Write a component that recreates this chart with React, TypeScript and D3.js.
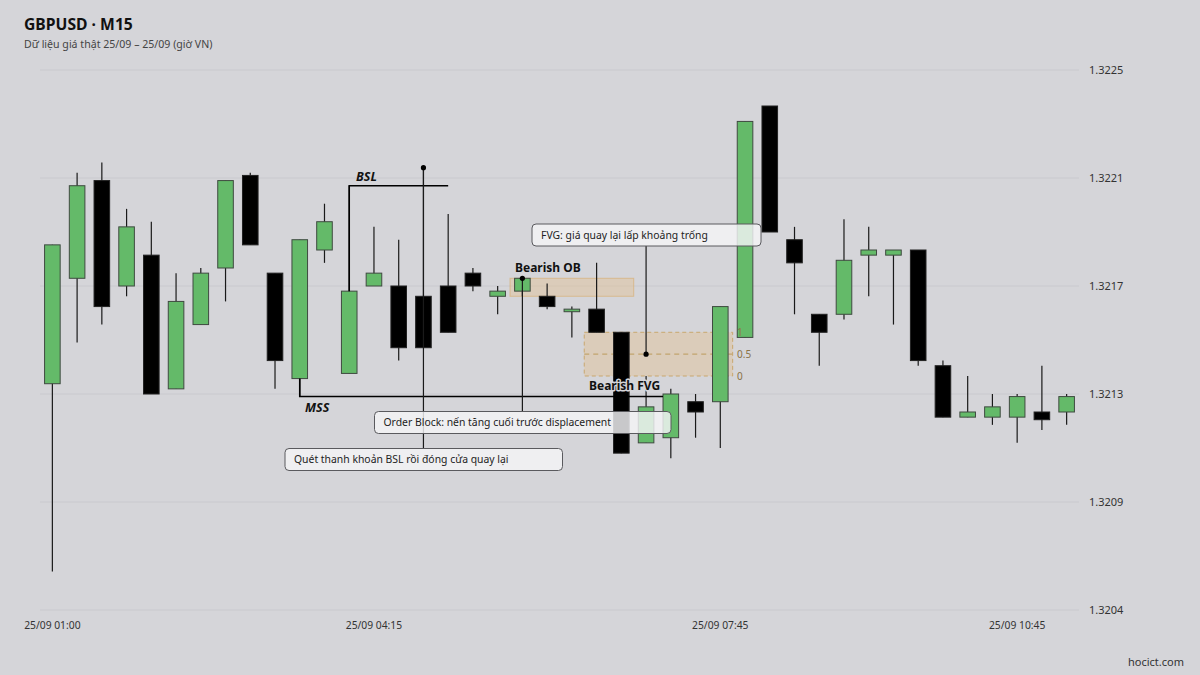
import React from "react";
import * as d3 from "d3";

const times = [
  "01:00","01:15","01:30","01:45","02:00","02:15","02:30","02:45","03:00","03:15",
  "03:30","03:45","04:00","04:15","04:30","04:45","05:00","05:15","05:30","05:45",
  "06:00","06:15","06:30","06:45","07:00","07:15","07:30","07:45","08:00","08:15",
  "08:30","08:45","09:00","09:15","09:30","09:45","10:00","10:15","10:30","10:45",
  "11:00","11:15",
];
const opens = [
  1.32132,1.32173,1.32211,1.32170,1.32182,1.32130,1.32155,1.32177,1.32213,1.32175,
  1.32134,1.32184,1.32136,1.32170,1.32170,1.32166,1.32170,1.32175,1.32166,1.32168,
  1.32166,1.32160,1.32161,1.32152,1.32109,1.32111,1.32125,1.32125,1.32150,1.32240,
  1.32188,1.32159,1.32159,1.32182,1.32182,1.32184,1.32139,1.32119,1.32119,1.32119,
  1.32121,1.32121,
];
const highs = [
  1.32186,1.32214,1.32218,1.32200,1.32195,1.32175,1.32177,1.32211,1.32214,1.32175,
  1.32188,1.32202,1.32209,1.32193,1.32188,1.32216,1.32198,1.32177,1.32170,1.32173,
  1.32171,1.32162,1.32179,1.32152,1.32135,1.32130,1.32128,1.32162,1.32234,1.32240,
  1.32193,1.32159,1.32196,1.32193,1.32184,1.32184,1.32141,1.32135,1.32128,1.32128,
  1.32139,1.32128,
];
const lows = [
  1.32059,1.32148,1.32155,1.32166,1.32128,1.32130,1.32155,1.32164,1.32186,1.32130,
  1.32127,1.32179,1.32136,1.32170,1.32141,1.32146,1.32152,1.32168,1.32159,1.32166,
  1.32161,1.32150,1.32152,1.32105,1.32109,1.32103,1.32111,1.32107,1.32150,1.32191,
  1.32159,1.32139,1.32157,1.32166,1.32155,1.32139,1.32119,1.32119,1.32116,1.32109,
  1.32114,1.32116,
];
const closes = [
  1.32186,1.32209,1.32162,1.32193,1.32128,1.32164,1.32175,1.32211,1.32186,1.32141,
  1.32188,1.32195,1.32168,1.32175,1.32146,1.32146,1.32152,1.32170,1.32168,1.32173,
  1.32162,1.32161,1.32152,1.32105,1.32123,1.32128,1.32121,1.32162,1.32234,1.32191,
  1.32179,1.32152,1.32180,1.32184,1.32184,1.32141,1.32119,1.32121,1.32123,1.32127,
  1.32118,1.32127,
];
const yTicks = [1.32044, 1.32086, 1.32128, 1.3217, 1.32212, 1.32254];
const xTickTimes = ["01:00", "04:15", "07:45", "10:45"];
const datePrefix = "25/09";

// annotation anchors (candle indices)
const bslFrom = 12, bslTo = 16, sweepIdx = 15;
const obIdx = 19, obEnd = 23;
const fvgStart = 22, fvgEnd = 27, fvgTopIdx = 22, fvgBotIdx = 24;
const mssFrom = 10, mssTo = 25;

const W = 1200, H = 675;
const BG = "#d5d5d9";
const GREEN = "#64ba69";
const FONT = "'Noto Sans', 'Open Sans', sans-serif";

export default function App() {
  const x = d3.scaleBand<string>().domain(times).range([40, 1079]).padding(0);
  const y = d3.scaleLinear().domain([1.32044, 1.32254]).range([610, 70]);
  const bw = x.bandwidth();
  const cx = (i: number) => (x(times[i]) as number) + bw / 2;
  const bodyW = bw * 0.63;
  const fmt = d3.format(".4f");

  const bslLevel = highs[bslFrom];
  const mssLevel = lows[mssFrom];
  const fvgTop = lows[fvgTopIdx];
  const fvgBot = highs[fvgBotIdx];
  const fvgMid = (fvgTop + fvgBot) / 2;

  const callouts = [
    { x: 532, y: 224, w: 229, h: 22, text: "FVG: giá quay lại lấp khoảng trống" },
    { x: 374.5, y: 411.5, w: 296.5, h: 22, text: "Order Block: nến tăng cuối trước displacement" },
    { x: 285, y: 448.5, w: 277.5, h: 22, text: "Quét thanh khoản BSL rồi đóng cửa quay lại" },
  ];

  const halo = { stroke: BG, strokeWidth: 3, paintOrder: "stroke" as const, strokeLinejoin: "round" as const };

  return (
    <svg width={W} height={H} style={{ position: "absolute", left: 0, top: 0, fontFamily: FONT }}>
      <rect width={W} height={H} fill={BG} />
      <text x={24} y={30} fontSize={15.7} fontWeight={700} fill="#111">GBPUSD · M15</text>
      <text x={24} y={47.5} fontSize={10.6} fill="#444">Dữ liệu giá thật 25/09 – 25/09 (giờ VN)</text>

      {yTicks.map((t) => (
        <g key={t}>
          <line x1={40} x2={1079} y1={y(t)} y2={y(t)} stroke="#c9c9ce" strokeWidth={1} />
          <text x={1089} y={y(t)} dy="0.35em" fontSize={11} fill="#333">{fmt(t)}</text>
        </g>
      ))}
      {xTickTimes.map((t) => (
        <text key={t} x={(x(t) as number) + bw / 2} y={625} dy="0.35em" textAnchor="middle" fontSize={10.3} fill="#333">
          {datePrefix} {t}
        </text>
      ))}
      <text x={1184} y={662} dy="0.35em" textAnchor="end" fontSize={11} fill="#333">hocict.com</text>

      {/* OB zone */}
      <rect x={x(times[obIdx]) as number} y={y(highs[obIdx])}
        width={(x(times[obEnd]) as number) + bw - (x(times[obIdx]) as number)}
        height={y(lows[obIdx]) - y(highs[obIdx])}
        fill="rgba(232,190,130,0.35)" stroke="rgba(215,170,105,0.6)" strokeWidth={1} />
      {/* FVG zone */}
      <rect x={x(times[fvgStart]) as number} y={y(fvgTop)}
        width={(x(times[fvgEnd]) as number) + bw - (x(times[fvgStart]) as number)}
        height={y(fvgBot) - y(fvgTop)}
        fill="rgba(232,190,130,0.35)" stroke="#c9a76e" strokeWidth={1} strokeDasharray="4 3" />
      <line x1={x(times[fvgStart]) as number} x2={(x(times[fvgEnd]) as number) + bw}
        y1={y(fvgMid)} y2={y(fvgMid)} stroke="#c2a46e" strokeWidth={1.2} strokeDasharray="5 4" />

      {/* candles */}
      {times.map((t, i) => {
        const up = closes[i] >= opens[i];
        const top = y(Math.max(opens[i], closes[i]));
        const bot = y(Math.min(opens[i], closes[i]));
        return (
          <g key={t}>
            <line x1={cx(i)} x2={cx(i)} y1={y(highs[i])} y2={y(lows[i])} stroke="#1a1a1a" strokeWidth={1.2} />
            <rect x={cx(i) - bodyW / 2} y={top} width={bodyW} height={Math.max(bot - top, 1.5)}
              fill={up ? GREEN : "#000"} stroke={up ? "#3f4a40" : "#222"} strokeWidth={1} />
          </g>
        );
      })}

      {/* FVG level labels */}
      <text x={737} y={y(fvgTop)} dy="0.35em" fontSize={10} fill="#8a7348">1</text>
      <text x={737} y={y(fvgMid)} dy="0.35em" fontSize={10} fill="#8a7348">0.5</text>
      <text x={737} y={y(fvgBot)} dy="0.35em" fontSize={10} fill="#8a7348">0</text>

      {/* BSL bracket */}
      <path d={`M${cx(bslFrom)},${y(closes[bslFrom])}V${y(bslLevel)}H${cx(bslTo)}`} fill="none" stroke="#000" strokeWidth={1.6} />
      <text x={356} y={181} fontSize={12.5} fontWeight={700} fontStyle="italic" fill="#111">BSL</text>
      {/* MSS bracket */}
      <path d={`M${cx(mssFrom)},${y(opens[mssFrom])}V${y(mssLevel)}H${cx(mssTo) - bodyW / 2}`} fill="none" stroke="#000" strokeWidth={1.6} />
      <text x={305} y={412} fontSize={12.5} fontWeight={700} fontStyle="italic" fill="#111">MSS</text>

      {/* leader lines */}
      <line x1={cx(sweepIdx)} x2={cx(sweepIdx)} y1={y(highs[sweepIdx])} y2={448.5} stroke="#1a1a1a" strokeWidth={1.2} />
      <circle cx={cx(sweepIdx)} cy={y(highs[sweepIdx])} r={2.6} fill="#000" />
      <line x1={cx(obIdx)} x2={cx(obIdx)} y1={y(highs[obIdx])} y2={411.5} stroke="#1a1a1a" strokeWidth={1.2} />
      <circle cx={cx(obIdx)} cy={y(highs[obIdx])} r={2.6} fill="#000" />
      <line x1={cx(fvgBotIdx)} x2={cx(fvgBotIdx)} y1={246} y2={y(fvgMid)} stroke="#1a1a1a" strokeWidth={1.2} />
      <circle cx={cx(fvgBotIdx)} cy={y(fvgMid)} r={2.6} fill="#000" />

      <text x={515} y={272} fontSize={12} fontWeight={700} fill="#111" {...halo}>Bearish OB</text>
      <text x={589} y={390} fontSize={12} fontWeight={700} fill="#111" {...halo}>Bearish FVG</text>

      {callouts.map((c) => (
        <g key={c.text}>
          <rect x={c.x} y={c.y} width={c.w} height={c.h} rx={4} fill="rgba(244,244,246,0.82)" stroke="#5a5a5e" strokeWidth={1} />
          <text x={c.x + 9} y={c.y + c.h / 2} dy="0.35em" fontSize={10.4} fill="#222">{c.text}</text>
        </g>
      ))}
    </svg>
  );
}
